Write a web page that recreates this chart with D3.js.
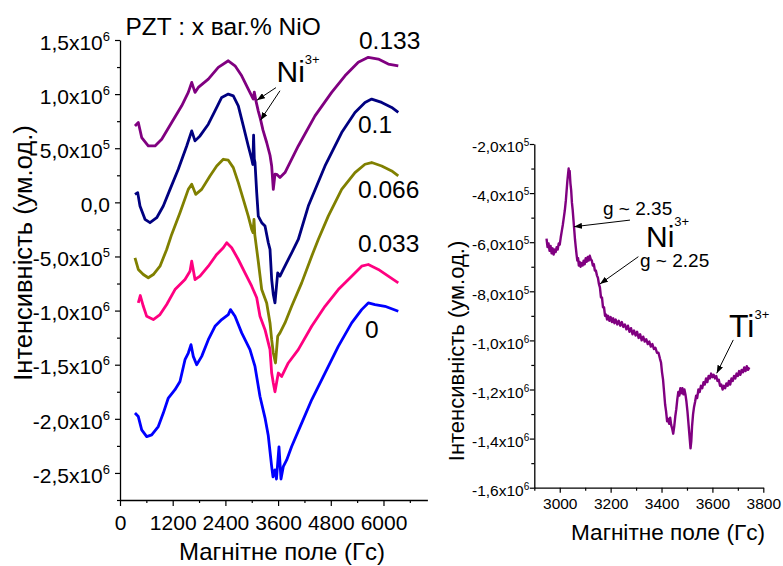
<!DOCTYPE html>
<html>
<head>
<meta charset="utf-8">
<script src="https://cdn.jsdelivr.net/npm/d3@7"></script>
<style>
  body { margin: 0; background: #fff; }
  text { font-family: "Liberation Sans", Arial, Helvetica, sans-serif; fill: #000; }
</style>
</head>
<body>
<svg id="chart" width="783" height="566"></svg>
<script>
// EPR spectra of PZT : x wt.% NiO. Field in Gs, intensity in units of 10^6 (left panel).
const spectrum0133 = [[341,0.706],[417,0.738],[494,0.599],[644,0.521],[797,0.521],[950,0.583],[1177,0.738],[1405,0.892],[1555,1.016],[1633,1.108],[1708,1.016],[1783,1.062],[2011,1.139],[2238,1.247],[2466,1.308],[2619,1.262],[2771,1.169],[2921,1.046],[3035,0.954],[3058,1.019],[3097,0.935],[3149,0.843],[3199,0.769],[3256,0.667],[3340,0.553],[3416,0.435],[3454,0.336],[3491,0.120],[3530,0.26],[3568,0.259],[3643,0.229],[3757,0.275],[4060,0.521],[4440,0.799],[4820,1.016],[5123,1.169],[5426,1.294],[5654,1.340],[5882,1.324],[6109,1.278],[6337,1.262]];
const spectrum01 = [[341,0.074],[403,0.090],[455,-0.034],[569,-0.157],[683,-0.188],[836,-0.142],[986,-0.034],[1139,0.120],[1327,0.306],[1519,0.521],[1633,0.660],[1708,0.568],[1822,0.614],[2011,0.722],[2163,0.845],[2316,0.969],[2466,1.0],[2580,0.984],[2694,0.892],[2808,0.706],[2921,0.521],[2999,0.398],[3025,0.35],[3042,0.62],[3058,0.40],[3074,0.368],[3113,0.090],[3149,-0.127],[3227,-0.188],[3302,-0.219],[3377,-0.373],[3416,-0.435],[3454,-0.713],[3491,-0.852],[3529,-0.929],[3591,-0.651],[3643,-0.682],[3718,-0.620],[3909,-0.466],[4060,-0.343],[4288,-0.034],[4668,0.336],[5048,0.645],[5351,0.831],[5579,0.923],[5731,0.954],[5959,0.923],[6187,0.877],[6337,0.831]];
const spectrum0066 = [[341,-0.512],[417,-0.620],[531,-0.667],[644,-0.697],[758,-0.667],[911,-0.590],[1063,-0.435],[1177,-0.296],[1366,-0.095],[1555,0.120],[1633,0.167],[1724,0.074],[1860,0.120],[2049,0.244],[2202,0.336],[2352,0.398],[2466,0.389],[2580,0.321],[2694,0.182],[2808,0.028],[2921,-0.127],[2999,-0.250],[3030,-0.28],[3051,-0.157],[3070,-0.30],[3113,-0.435],[3149,-0.546],[3227,-0.806],[3340,-0.929],[3416,-1.114],[3454,-1.269],[3491,-1.392],[3541,-1.484],[3591,-1.238],[3643,-1.206],[3757,-1.114],[3909,-0.960],[4137,-0.744],[4365,-0.497],[4515,-0.343],[4743,-0.127],[5048,0.120],[5351,0.275],[5579,0.352],[5731,0.368],[5959,0.336],[6187,0.290],[6337,0.244]];
const spectrum0033 = [[417,-0.929],[462,-0.861],[531,-0.960],[608,-1.053],[758,-1.083],[911,-1.037],[1063,-0.944],[1252,-0.806],[1480,-0.713],[1594,-0.636],[1633,-0.544],[1708,-0.713],[1822,-0.682],[2011,-0.590],[2202,-0.481],[2352,-0.419],[2430,-0.373],[2543,-0.419],[2694,-0.528],[2846,-0.651],[2999,-0.775],[3113,-0.882],[3188,-1.053],[3302,-1.176],[3416,-1.361],[3454,-1.577],[3491,-1.669],[3529,-1.750],[3605,-1.577],[3682,-1.608],[3832,-1.484],[4060,-1.361],[4365,-1.145],[4668,-0.960],[4971,-0.806],[5276,-0.682],[5503,-0.590],[5654,-0.574],[5882,-0.620],[6109,-0.682],[6337,-0.744]];
const spectrum0 = [[341,-1.947],[417,-1.979],[494,-2.102],[608,-2.164],[722,-2.148],[872,-2.071],[986,-1.947],[1100,-1.808],[1252,-1.731],[1366,-1.655],[1480,-1.454],[1555,-1.392],[1617,-1.315],[1669,-1.423],[1746,-1.500],[1860,-1.423],[2011,-1.269],[2163,-1.145],[2316,-1.083],[2466,-1.037],[2516,-0.991],[2619,-1.053],[2771,-1.206],[2960,-1.361],[3074,-1.516],[3188,-1.794],[3302,-1.991],[3377,-2.157],[3454,-2.442],[3484,-2.537],[3529,-2.472],[3563,-2.556],[3620,-2.259],[3666,-2.556],[3718,-2.442],[3796,-2.380],[3909,-2.256],[4137,-2.040],[4365,-1.824],[4668,-1.577],[4971,-1.331],[5276,-1.114],[5503,-0.991],[5654,-0.929],[5806,-0.944],[6034,-0.960],[6337,-1.006]];

const seriesNames = ["0.133", "0.1", "0.066", "0.033", "0"];
const seriesData = [spectrum0133, spectrum01, spectrum0066, spectrum0033, spectrum0];

// Right panel: narrow field sweep, intensity in units of 10^5.
const spectrumZoom = [[2948,-5.85],[2952,-6.2],[2956,-6.05],[2960,-6.35],[2964,-6.15],[2968,-6.45],[2972,-6.25],[2976,-6.5],[2980,-6.3],[2984,-6.4],[2988,-6.2],[2992,-6.3],[2996,-6.05],[3000,-6.1],[3004,-5.8],[3008,-5.55],[3012,-5.3],[3016,-5.0],[3020,-4.7],[3024,-4.3],[3027,-3.9],[3030,-3.5],[3033,-3.2],[3035,-3.0],[3037,-3.25],[3039,-3.1],[3042,-3.6],[3045,-3.9],[3048,-4.4],[3051,-4.7],[3054,-5.1],[3057,-5.5],[3060,-5.9],[3063,-6.2],[3066,-6.5],[3069,-6.75],[3072,-6.65],[3075,-6.95],[3078,-6.8],[3082,-7.0],[3086,-6.85],[3090,-6.95],[3094,-6.75],[3098,-6.9],[3102,-6.65],[3106,-6.8],[3110,-6.6],[3114,-6.75],[3118,-6.55],[3122,-6.7],[3126,-6.75],[3130,-6.95],[3134,-6.9],[3138,-7.15],[3142,-7.15],[3146,-7.35],[3150,-7.45],[3154,-7.7],[3158,-7.85],[3162,-8.25],[3166,-8.25],[3170,-8.65],[3174,-8.65],[3178,-9.0],[3182,-8.95],[3186,-9.15],[3190,-9.0],[3195,-9.2],[3200,-9.05],[3205,-9.25],[3210,-9.1],[3215,-9.3],[3220,-9.15],[3226,-9.35],[3232,-9.2],[3238,-9.4],[3244,-9.25],[3250,-9.45],[3256,-9.35],[3262,-9.55],[3268,-9.4],[3274,-9.65],[3280,-9.5],[3286,-9.75],[3292,-9.6],[3298,-9.8],[3304,-9.65],[3310,-9.9],[3316,-9.75],[3322,-10.0],[3328,-9.85],[3334,-10.05],[3340,-9.95],[3346,-10.15],[3352,-10.05],[3358,-10.25],[3364,-10.15],[3370,-10.35],[3376,-10.3],[3382,-10.5],[3388,-10.5],[3394,-10.75],[3398,-10.9],[3402,-11.3],[3406,-11.6],[3410,-12.1],[3414,-12.6],[3418,-12.9],[3422,-13.3],[3426,-13.2],[3430,-13.4],[3434,-13.15],[3438,-13.45],[3442,-13.6],[3446,-13.8],[3450,-13.5],[3454,-13.1],[3458,-12.8],[3462,-12.4],[3466,-12.1],[3470,-12.25],[3474,-11.95],[3478,-12.15],[3482,-11.95],[3486,-12.2],[3490,-12.0],[3494,-12.2],[3498,-12.5],[3502,-12.9],[3506,-13.4],[3510,-13.9],[3514,-14.4],[3517,-14.1],[3520,-13.5],[3524,-13.0],[3528,-12.7],[3532,-12.5],[3536,-12.25],[3540,-12.35],[3545,-12.0],[3550,-12.1],[3555,-11.85],[3560,-11.95],[3565,-11.7],[3570,-11.8],[3575,-11.55],[3580,-11.7],[3585,-11.45],[3590,-11.55],[3595,-11.35],[3600,-11.5],[3605,-11.4],[3610,-11.55],[3615,-11.45],[3620,-11.65],[3625,-11.6],[3630,-11.85],[3635,-11.8],[3640,-12.0],[3645,-11.85],[3650,-11.95],[3655,-11.75],[3660,-11.85],[3665,-11.65],[3670,-11.8],[3675,-11.55],[3680,-11.65],[3685,-11.45],[3690,-11.55],[3695,-11.35],[3700,-11.45],[3705,-11.25],[3710,-11.4],[3715,-11.2],[3720,-11.3],[3725,-11.1],[3730,-11.25],[3735,-11.05],[3740,-11.2],[3745,-11.1]];

// Tick values and labels ([mantissa, power of ten])
const xTicksL = [0, 1200, 2400, 3600, 4800, 6000];
const xMinorL = [600, 1800, 3000, 4200, 5400, 6600];
const yTicksL = [-2.5, -2.0, -1.5, -1.0, -0.5, 0, 0.5, 1.0, 1.5];
const yLabelsL = [["-2,5x10","6"],["-2,0x10","6"],["-1,5x10","6"],["-1,0x10","6"],["-5,0x10","5"],["0,0",""],["5,0x10","5"],["1,0x10","6"],["1,5x10","6"]];
const yMinorL = [-2.75, -2.25, -1.75, -1.25, -0.75, -0.25, 0.25, 0.75, 1.25];

const xTicksR = [3000, 3200, 3400, 3600, 3800];
const xMinorR = [2900, 3100, 3300, 3500, 3700];
const yTicksR = [-16, -14, -12, -10, -8, -6, -4, -2];
const yLabelsR = [["-1,6x10","6"],["-1,4x10","6"],["-1,2x10","6"],["-1,0x10","6"],["-8,0x10","5"],["-6,0x10","5"],["-4,0x10","5"],["-2,0x10","5"]];
const yMinorR = [-15, -13, -11, -9, -7, -5, -3];

const seriesColors = ["#800080", "#000080", "#808000", "#ff0080", "#0000ff"];

const svg = d3.select("#chart");

const defs = svg.append("defs");
defs.append("marker")
  .attr("id", "arrowhead")
  .attr("markerUnits", "userSpaceOnUse")
  .attr("markerWidth", 9).attr("markerHeight", 6)
  .attr("refX", 8).attr("refY", 3)
  .attr("orient", "auto")
  .append("path").attr("d", "M0,0 L8,3 L0,6 Z").attr("fill", "#000");

// ---------- Left panel ----------
const xL = d3.scaleLinear().domain([0, 7000]).range([120, 427.4]);
const yL = d3.scaleLinear().domain([-2.75, 1.5]).range([500, 40]);

function styleAxis(g, fontSize) {
  g.select(".domain").attr("stroke", "#000").attr("stroke-width", 1.3);
  g.selectAll(".tick line").attr("stroke", "#000").attr("stroke-width", 1.2);
  g.selectAll(".tick text").attr("font-size", fontSize).attr("font-family", null).attr("fill", "#000");
}
function addPowers(g, labels, supSize, supRise) {
  g.selectAll(".tick text").each(function (d, i) {
    const p = labels[i][1];
    if (p) d3.select(this).append("tspan").attr("font-size", supSize).attr("dy", -supRise).text(p);
  });
}
function minorTicks(g) {
  g.select(".domain").remove();
  g.selectAll("line").attr("stroke", "#000").attr("stroke-width", 1.2);
}

const gxL = svg.append("g").attr("transform", "translate(0,500)")
  .call(d3.axisBottom(xL).tickValues(xTicksL).tickSize(6).tickSizeOuter(0).tickPadding(9)
    .tickFormat(d => String(d)));
styleAxis(gxL, 21);
svg.append("g").attr("transform", "translate(0,500)")
  .call(d3.axisBottom(xL).tickValues(xMinorL).tickSize(3).tickFormat(""))
  .call(minorTicks);

const gyL = svg.append("g").attr("transform", "translate(120,0)")
  .call(d3.axisLeft(yL).tickValues(yTicksL).tickSize(5).tickSizeOuter(0).tickPadding(5)
    .tickFormat((d, i) => yLabelsL[i][0]));
styleAxis(gyL, 21);
gyL.selectAll(".tick text").attr("dy", "0.44em");
addPowers(gyL, yLabelsL, 13, 9);
svg.append("g").attr("transform", "translate(120,0)")
  .call(d3.axisLeft(yL).tickValues(yMinorL).tickSize(3).tickFormat(""))
  .call(minorTicks);

const lineL = d3.line().x(d => xL(d[0])).y(d => yL(d[1]));
svg.append("g").selectAll("path").data(seriesData).join("path")
  .attr("d", lineL)
  .attr("fill", "none")
  .attr("stroke", (d, i) => seriesColors[i])
  .attr("stroke-width", 2.8)
  .attr("stroke-linejoin", "round");

// curve labels (field, intensity of text baseline)
const seriesLabelPos = [[5442, 1.421], [5419, 0.645], [5419, 0.0435], [5419, -0.463], [5579, -1.25]];
svg.append("g").selectAll("text").data(seriesNames).join("text")
  .attr("x", (d, i) => xL(seriesLabelPos[i][0]))
  .attr("y", (d, i) => yL(seriesLabelPos[i][1]))
  .attr("font-size", 24.5)
  .text(d => d);

svg.append("text").attr("x", 125.5).attr("y", 35).attr("font-size", 24.5).text("PZT : x ваг.% NiO");

// Ni3+ marker on the 0.133 curve
const niL = svg.append("text").attr("x", 276.5).attr("y", 81.7).attr("font-size", 30);
niL.append("tspan").text("Ni");
niL.append("tspan").attr("font-size", 13).attr("dy", -18).text("3+");
const arrowsL = [[[3552, 1.060], [3119, 0.944]], [[3643, 1.031], [3199, 0.759]]];
svg.append("g").selectAll("line").data(arrowsL).join("line")
  .attr("x1", d => xL(d[0][0])).attr("y1", d => yL(d[0][1]))
  .attr("x2", d => xL(d[1][0])).attr("y2", d => yL(d[1][1]))
  .attr("stroke", "#000").attr("stroke-width", 1)
  .attr("marker-end", "url(#arrowhead)");

svg.append("text").attr("transform", "translate(32,253) rotate(-90)")
  .attr("text-anchor", "middle").attr("font-size", 25.5).text("Інтенсивність (ум.од.)");
svg.append("text").attr("x", 282).attr("y", 560)
  .attr("text-anchor", "middle").attr("font-size", 24).text("Магнітне поле (Гс)");

// ---------- Right panel ----------
const xR = d3.scaleLinear().domain([2900, 3800]).range([534.3, 763.3]);
const yR = d3.scaleLinear().domain([-16, -2]).range([487.7, 144]);

const gxR = svg.append("g").attr("transform", "translate(0,487.7)")
  .call(d3.axisBottom(xR).tickValues(xTicksR).tickSize(5).tickSizeOuter(0).tickPadding(5)
    .tickFormat(d => String(d)));
styleAxis(gxR, 15.5);
svg.append("g").attr("transform", "translate(0,487.7)")
  .call(d3.axisBottom(xR).tickValues(xMinorR).tickSize(3).tickFormat(""))
  .call(minorTicks);

const gyR = svg.append("g").attr("transform", "translate(534.3,0)")
  .call(d3.axisLeft(yR).tickValues(yTicksR).tickSize(4.5).tickSizeOuter(0).tickPadding(0.5)
    .tickFormat((d, i) => yLabelsR[i][0]));
styleAxis(gyR, 15.5);
gyR.selectAll(".tick text").attr("dy", "0.5em");
addPowers(gyR, yLabelsR, 10, 6);
svg.append("g").attr("transform", "translate(534.3,0)")
  .call(d3.axisLeft(yR).tickValues(yMinorR).tickSize(3).tickFormat(""))
  .call(minorTicks);

const lineR = d3.line().x(d => xR(d[0])).y(d => yR(d[1]));
svg.append("path").datum(spectrumZoom)
  .attr("d", lineR)
  .attr("fill", "none")
  .attr("stroke", "#800080")
  .attr("stroke-width", 2.4)
  .attr("stroke-linejoin", "round");

svg.append("text").attr("x", 603).attr("y", 215).attr("font-size", 19).text("g ~ 2.35");
svg.append("text").attr("x", 640).attr("y", 266.5).attr("font-size", 19).text("g ~ 2.25");
const niR = svg.append("text").attr("x", 646).attr("y", 246.7).attr("font-size", 30);
niR.append("tspan").text("Ni");
niR.append("tspan").attr("font-size", 13).attr("dy", -20.5).text("3+");
const tiR = svg.append("text").attr("x", 729).attr("y", 336.7).attr("font-size", 32);
tiR.append("tspan").text("Ti");
tiR.append("tspan").attr("font-size", 13).attr("dy", -18).text("3+");

const arrowsR = [[[3276, -5.10], [3056, -5.37]], [[3309, -6.59], [3158, -7.70]], [[3682, -9.98], [3617, -11.34]]];
svg.append("g").selectAll("line").data(arrowsR).join("line")
  .attr("x1", d => xR(d[0][0])).attr("y1", d => yR(d[0][1]))
  .attr("x2", d => xR(d[1][0])).attr("y2", d => yR(d[1][1]))
  .attr("stroke", "#000").attr("stroke-width", 1)
  .attr("marker-end", "url(#arrowhead)");

svg.append("text").attr("transform", "translate(464,351) rotate(-90)")
  .attr("text-anchor", "middle").attr("font-size", 22).text("Інтенсивність (ум.од.)");
svg.append("text").attr("x", 668).attr("y", 540)
  .attr("text-anchor", "middle").attr("font-size", 22.6).text("Магнітне поле (Гс)");
</script>
</body>
</html>
